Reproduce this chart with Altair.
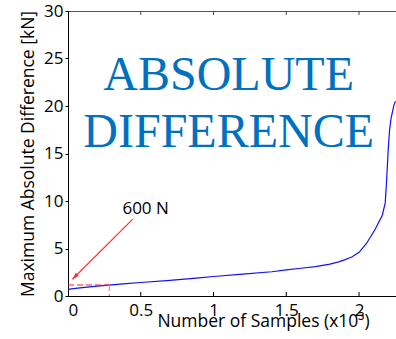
import altair as alt
import pandas as pd

# curve data (x in thousands of samples, y in kN)
samples = [0, 0.05, 0.1, 0.2, 0.28, 0.4, 0.5, 0.7, 0.9, 1.0, 1.2, 1.4, 1.5, 1.6, 1.7, 1.8, 1.86,
           1.9, 1.95, 2.0, 2.05, 2.11, 2.16, 2.18, 2.19, 2.2, 2.21, 2.22, 2.23, 2.24, 2.25]
max_diff = [0.7, 0.8, 0.88, 1.03, 1.15, 1.3, 1.42, 1.65, 1.9, 2.05, 2.3, 2.55, 2.75, 2.92, 3.1, 3.35, 3.6,
            3.8, 4.1, 4.6, 5.5, 7.0, 8.5, 9.8, 12.3, 15.3, 17.5, 18.7, 19.4, 20.1, 20.5]

# annotation values
thr_x = [0, 0.284]
thr_y = [1.16, 1.16]
vline_x = [0.284, 0.284]
vline_y = [1.16, 0]
arrow_x = [0.445, 0.03]
arrow_y = [8.1, 1.76]
label_text = ["600 N"]
label_x = [0.374]
label_y = [8.66]
big_text = ["ABSOLUTE", "DIFFERENCE"]
big_x = [1.104, 1.104]
big_y = [21.7, 15.7]
x_ticks = [0, 0.5, 1, 1.5, 2]
inner_ticks = [0.5, 1, 1.5, 2]
y_ticks = [0, 5, 10, 15, 20, 25, 30]

W, H = 328, 285
FONT = "Open Sans"

xs = alt.Scale(domain=[0, 2.254], nice=False, zero=False)
ys = alt.Scale(domain=[0, 30], nice=False)

curve_df = pd.DataFrame({"x": samples, "y": max_diff})

base_x_axis = alt.Axis(values=x_ticks, labelExpr="format(datum.value, '~g')", ticks=False,
                       labelPadding=6, labelFontSize=17, labelFont=FONT, labelColor="black",
                       domainColor="black", grid=False,
                       title="Number of Samples (x10³)", titleFont=FONT, titleFontSize=17.5,
                       titleFontWeight="normal", titleColor="black", titleX=195, titleY=30,
                       titleAlign="center", titleBaseline="alphabetic")
base_y_axis = alt.Axis(values=y_ticks, tickSize=3, tickColor="black", labelPadding=2,
                       labelFontSize=17, labelFont=FONT, labelColor="black",
                       domainColor="black", grid=False,
                       title="Maximum Absolute Difference [kN]", titleFont=FONT, titleFontSize=17.5,
                       titleFontWeight="normal", titleColor="black", titleX=-35, titleY=142.5,
                       titleAlign="center", titleBaseline="alphabetic", titleAngle=270)

curve = alt.Chart(curve_df).mark_line(color="#1010ff", strokeWidth=1.2).encode(
    x=alt.X("x:Q", scale=xs, axis=base_x_axis),
    y=alt.Y("y:Q", scale=ys, axis=base_y_axis),
)

thr = alt.Chart(pd.DataFrame({"x": thr_x, "y": thr_y})).mark_line(
    color="#ff2020", strokeDash=[6, 3], strokeWidth=1.2).encode(
    x=alt.X("x:Q", scale=xs), y=alt.Y("y:Q", scale=ys))

vline = alt.Chart(pd.DataFrame({"x": vline_x, "y": vline_y})).mark_line(
    color="#ff8080", strokeDash=[6, 3], strokeWidth=1.2).encode(
    x=alt.X("x:Q", scale=xs), y=alt.Y("y:Q", scale=ys))

arrow = alt.Chart(pd.DataFrame({"x": arrow_x, "y": arrow_y})).mark_line(
    color="#ff3030", strokeWidth=1.2).encode(
    x=alt.X("x:Q", scale=xs), y=alt.Y("y:Q", scale=ys))

head = alt.Chart(pd.DataFrame({"x": arrow_x[1:], "y": arrow_y[1:]})).mark_point(
    shape="M0,0L-0.55,1.8L0.55,1.8Z", angle=225, size=60, filled=True,
    color="#ff3030", opacity=1).encode(
    x=alt.X("x:Q", scale=xs), y=alt.Y("y:Q", scale=ys))

label = alt.Chart(pd.DataFrame({"x": label_x, "y": label_y, "t": label_text})).mark_text(
    align="left", baseline="alphabetic", font=FONT, fontSize=17, color="black").encode(
    x=alt.X("x:Q", scale=xs), y=alt.Y("y:Q", scale=ys), text="t:N")

big = alt.Chart(pd.DataFrame({"x": big_x, "y": big_y, "t": big_text})).mark_text(
    align="center", baseline="alphabetic", font="Liberation Serif", fontSize=48,
    color="#0070C0").encode(
    x=alt.X("x:Q", scale=xs), y=alt.Y("y:Q", scale=ys), text="t:N")

tick_df = pd.DataFrame({"x": inner_ticks})
bottom_ticks = alt.Chart(tick_df).mark_rule(color="black", strokeWidth=1).encode(
    x=alt.X("x:Q", scale=xs), y=alt.value(H), y2=alt.value(H - 4))
top_ticks = alt.Chart(tick_df).mark_rule(color="#444444", strokeWidth=1).encode(
    x=alt.X("x:Q", scale=xs), y=alt.value(0), y2=alt.value(4))

chart = alt.layer(big, curve, thr, vline, arrow, head, label, bottom_ticks, top_ticks).properties(
    width=W, height=H,
    autosize=alt.AutoSizeParams(type="none"),
    padding={"left": 68, "top": 11, "right": 0, "bottom": 43},
    background="white",
).configure_view(stroke="#555555", strokeWidth=1)

chart.save("out.html", embed_options={"renderer": "svg", "actions": False})
